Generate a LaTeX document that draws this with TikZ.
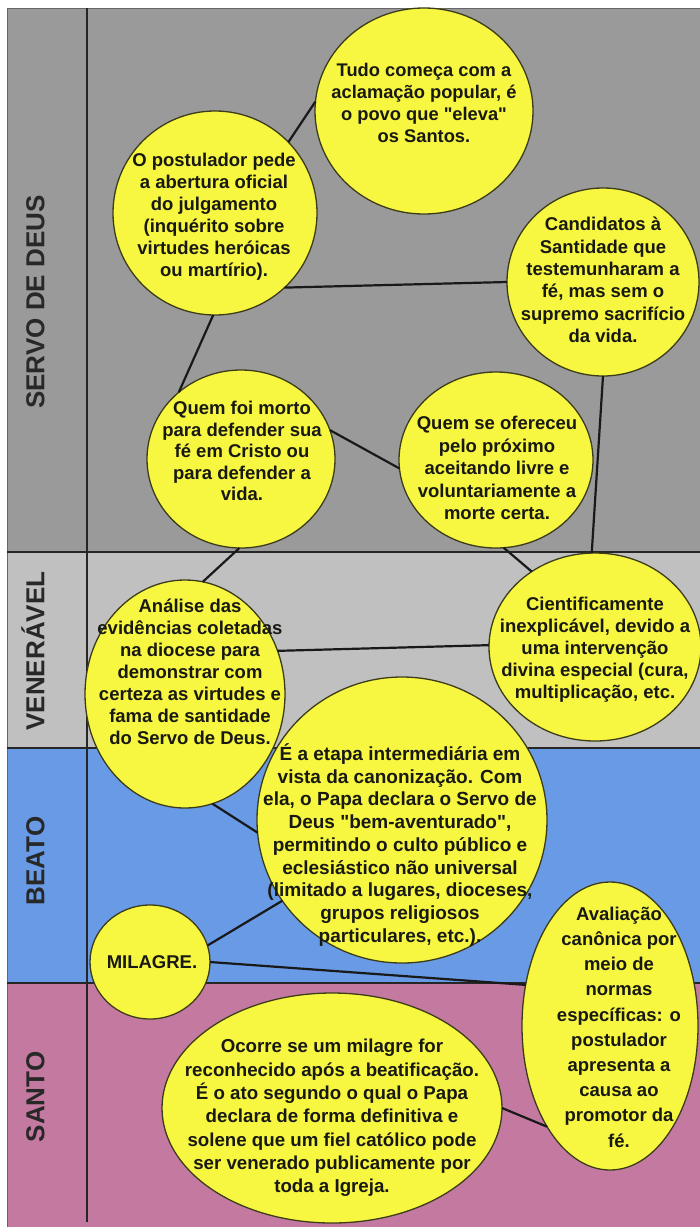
\documentclass[tikz,border=0pt]{standalone}
\usepackage{fontspec}
\setmainfont{Liberation Sans}[Ligatures=TeXOff]
\usetikzlibrary{shapes.geometric}
\definecolor{servo}{RGB}{154,154,154}
\definecolor{vener}{RGB}{192,192,192}
\definecolor{beato}{RGB}{104,154,230}
\definecolor{santo}{RGB}{196,122,160}
\definecolor{bub}{RGB}{247,247,66}
\definecolor{bubline}{RGB}{60,60,25}
\definecolor{ink}{RGB}{25,25,20}
\definecolor{labcol}{RGB}{40,40,40}
\begin{document}
\begin{tikzpicture}[x=1pt,y=-1pt,
  bubble/.style={ellipse, draw=bubline, line width=1.3pt, fill=bub, inner sep=0pt, outer sep=0pt},
  txt/.style={align=center, text=ink, inner sep=0pt, font=\fontsize{18.5}{22}\selectfont\bfseries},
  conn/.style={line width=2.2pt, draw=black!90},
  bandline/.style={line width=2pt, draw=black!85},
  lab/.style={rotate=90, text=labcol, inner sep=0pt, text height=18.6pt, text depth=0pt, font=\fontsize{26}{30}\selectfont\bfseries}]
\useasboundingbox (0,0) rectangle (700,1229);
\fill[white] (0,0) rectangle (700,1229);
% bands
\fill[servo] (7,8) rectangle (700,552);
\fill[vener] (7,552) rectangle (700,748);
\fill[beato] (7,748) rectangle (700,983);
\fill[santo] (7,983) rectangle (700,1227);
\draw[black!60, line width=0.8pt] (7,1227) -- (7,8) -- (700,8);
\draw[bandline] (7,552) -- (700,552);
\draw[bandline] (7,748) -- (700,748);
\draw[bandline] (7,983) -- (700,983);
\draw[bandline] (87,8) -- (87,1222);
% labels
\node[lab] (lservo) at (35,302) {SERVO DE DEUS};
\node[lab] (lvener) at (35,651) {VENERÁVEL};
\node[lab] (lbeato) at (35,861) {BEATO};
\node[lab] (lsanto) at (35,1097) {SANTO};
% bubbles
\node[bubble, minimum width=218pt, minimum height=206pt] (tudo) at (424,111) {};
\node[bubble, minimum width=204pt, minimum height=204pt] (post) at (215,213) {};
\node[bubble, minimum width=192pt, minimum height=188pt] (cand) at (603,282) {};
\node[bubble, minimum width=188pt, minimum height=178pt] (morto) at (241,459) {};
\node[bubble, minimum width=194pt, minimum height=176pt] (ofer) at (496,460) {};
\node[bubble, minimum width=212pt, minimum height=188pt] (cien) at (595,647) {};
\node[bubble, minimum width=200pt, minimum height=228pt] (anal) at (185,694) {};
\node[bubble, minimum width=290pt, minimum height=286pt] (etapa) at (402,820) {};
\node[bubble, minimum width=120pt, minimum height=114pt] (mil) at (150,962) {};
\node[bubble, minimum width=176pt, minimum height=288pt] (aval) at (610,1026) {};
\node[bubble, minimum width=340pt, minimum height=230pt] (ocor) at (332,1108) {};
% connectors
\draw[conn] (post.44) -- (tudo.175);
\draw[conn] (post.-47) -- (cand.180);
\draw[conn] (post.-91) -- (morto.133);
\draw[conn] (morto.18) -- (ofer.185);
\draw[conn] (morto.-91) -- (anal.81);
\draw[conn] (cand.-90) -- (cien.92);
\draw[conn] (ofer.-85) -- (cien.130);
\draw[conn] (anal.25) -- (cien.179);
\draw[conn] (anal.-76) -- (etapa.185);
\draw[conn] (mil.16) -- (etapa.214);
\draw[conn] (mil.0) -- (aval.154);
\draw[conn] (ocor.0) -- (aval.238);
% texts
\node[txt, font=\fontsize{18.3}{21.7}\selectfont\bfseries] (tudoT) at (424,103) {Tudo começa com a\\aclamação popular, é\\o povo que "eleva"\\os Santos.};
\node[txt] (postT) at (214,217) {O postulador pede\\a abertura oficial\\do julgamento\\(inquérito sobre\\virtudes heróicas\\ou martírio).};
\node[txt, font=\fontsize{18.5}{22.4}\selectfont\bfseries] (candT) at (603,280) {Candidatos à\\Santidade que\\testemunharam a\\fé, mas sem o\\supremo sacrifício\\da vida.};
\node[txt, font=\fontsize{18.5}{21.5}\selectfont\bfseries] (mortoT) at (242,451) {Quem foi morto\\para defender sua\\fé em Cristo ou\\para defender a\\vida.};
\node[txt, font=\fontsize{18.5}{22.5}\selectfont\bfseries] (oferT) at (497,468) {Quem se ofereceu\\pelo próximo\\aceitando livre e\\voluntariamente a\\morte certa.};
\node[txt] (cienT) at (595,650) {Cientificamente\\inexplicável, devido a\\uma intervenção\\divina especial (cura,\\multiplicação, etc.};
\node[txt] (analT) at (190,672) {Análise das\\evidências coletadas\\na diocese para\\demonstrar com\\certeza as virtudes e\\fama de santidade\\do Servo de Deus.};
\node[txt, font=\fontsize{19}{22.75}\selectfont\bfseries] (etapaT) at (400,845) {É a etapa intermediária em\\vista da canonização. Com\\ela, o Papa declara o Servo de\\Deus "bem-aventurado",\\permitindo o culto público e\\eclesiástico não universal\\(limitado a lugares, dioceses,\\grupos religiosos\\particulares, etc.).};
\node[txt] (milT) at (152,962) {MILAGRE.};
\node[txt, font=\fontsize{18.5}{25.2}\selectfont\bfseries] (avalT) at (619,1027) {Avaliação\\canônica por\\meio de\\normas\\específicas: o\\postulador\\apresenta a\\causa ao\\promotor da\\fé.};
\node[txt, font=\fontsize{18.7}{23.3}\selectfont\bfseries] (ocorT) at (332,1118) {Ocorre se um milagre for\\reconhecido após a beatificação.\\É o ato segundo o qual o Papa\\declara de forma definitiva e\\solene que um fiel católico pode\\ser venerado publicamente por\\toda a Igreja.};
\end{tikzpicture}
\end{document}
